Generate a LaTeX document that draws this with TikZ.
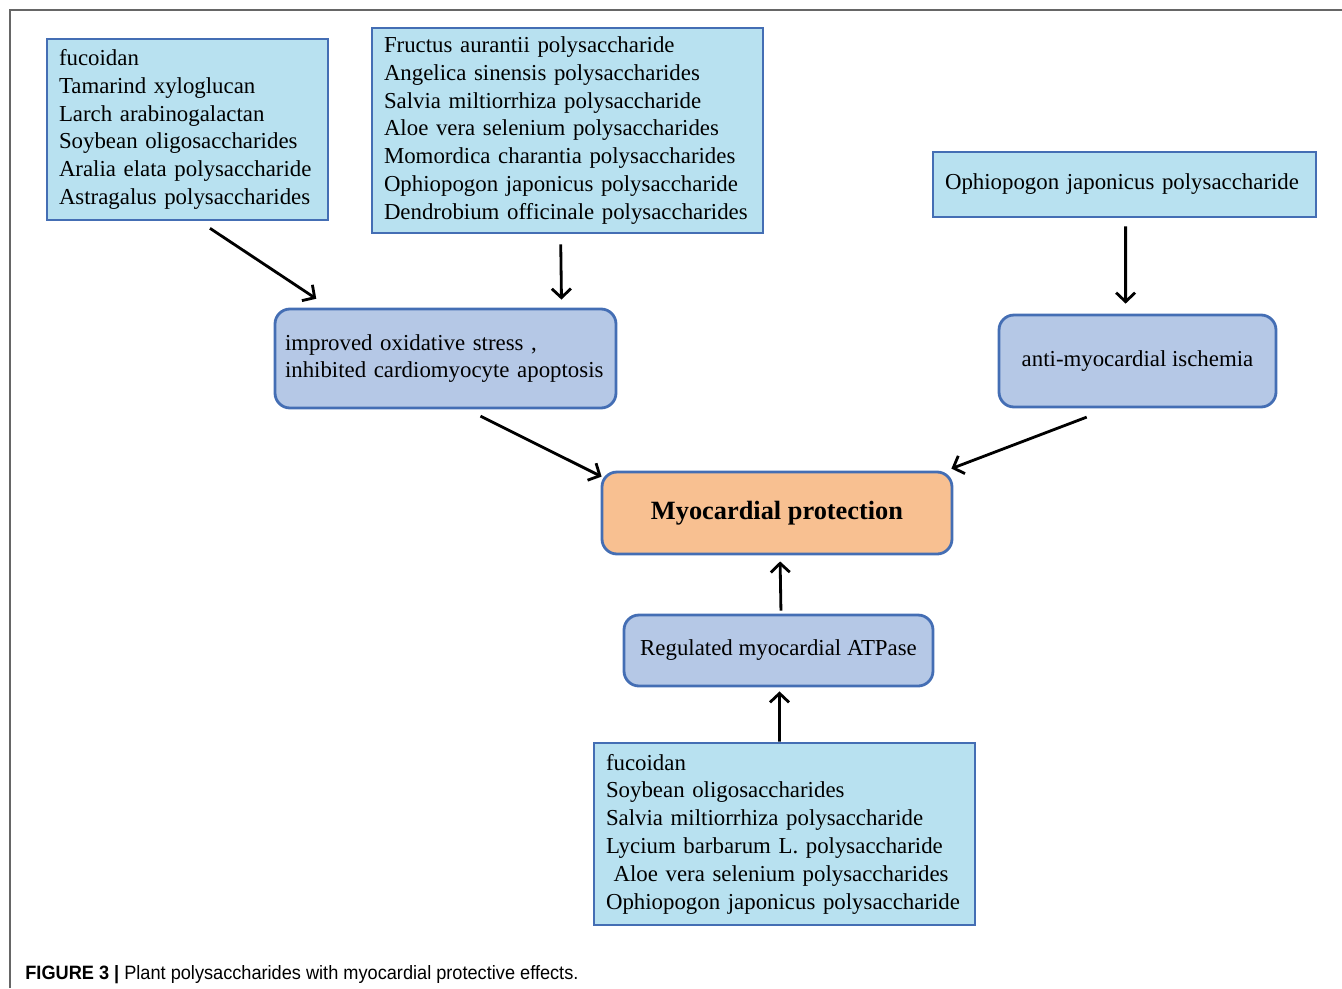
\documentclass[tikz,border=0pt]{standalone}
\usepackage{fontspec}
\setmainfont{Liberation Serif}
\setsansfont{Liberation Sans}
\newfontfamily\capfont{Liberation Sans}[FakeStretch=0.94]
\usetikzlibrary{arrows.meta}
\definecolor{listfill}{RGB}{184, 225, 240}
\definecolor{stepfill}{RGB}{181, 200, 230}
\definecolor{mainfill}{RGB}{248, 192, 145}
\definecolor{edgeblue}{RGB}{68, 110, 180}

\begin{document}
\begin{tikzpicture}[
        listbox/.style={draw=edgeblue, line width=1.6pt, fill=listfill, align=left,
            inner xsep=0.24cm, font=\fontsize{13}{15.8}\selectfont},
        effect/.style={draw=edgeblue, line width=1.6pt, fill=stepfill, rounded corners=0.3cm,
            align=center, font=\fontsize{13}{15.8}\selectfont},
        arr/.style={line width=1.6pt, -{Straight Barb[length=1.8mm, width=3.8mm]}}
    ]
    \useasboundingbox (0,0) rectangle (26.84,-19.76);
    % frame
    \draw[gray!80!black, line width=0.6pt] (0.2,-19.76) -- (0.2,-0.2) -- (26.84,-0.2);

    % sources
    \node[listbox, text width=5.14cm, minimum height=3.62cm] (srcA) at (3.75,-2.59) {fucoidan\\
        Tamarind xyloglucan\\
        Larch arabinogalactan\\
        Soybean oligosaccharides\\
        Aralia elata polysaccharide\\
        Astragalus polysaccharides};
    \node[listbox, text width=7.34cm, minimum height=4.1cm] (srcB) at (11.35,-2.61) {Fructus aurantii polysaccharide\\
        Angelica sinensis polysaccharides\\
        Salvia miltiorrhiza polysaccharide\\
        Aloe vera selenium polysaccharides\\
        Momordica charantia polysaccharides\\
        Ophiopogon japonicus polysaccharide\\
        Dendrobium officinale polysaccharides};
    \node[listbox, text width=7.18cm, minimum height=1.3cm] (srcC) at (22.49,-3.69) {Ophiopogon japonicus polysaccharide};
    \node[listbox, text width=7.14cm, minimum height=3.64cm] (srcH) at (15.69,-16.68) {fucoidan\\
        Soybean oligosaccharides\\
        Salvia miltiorrhiza polysaccharide\\
        Lycium barbarum L. polysaccharide\\
        \ Aloe vera selenium polysaccharides\\
        Ophiopogon japonicus polysaccharide};

    % effects
    \node[effect, align=left, inner xsep=0.2cm, text width=6.42cm, minimum height=1.98cm] (oxid) at (8.91,-7.17) {improved oxidative stress ,\\
        inhibited cardiomyocyte apoptosis};
    \node[effect, minimum width=5.54cm, minimum height=1.84cm] (ischem) at (22.75,-7.22) {anti-myocardial ischemia};
    \node[effect, minimum width=6.18cm, minimum height=1.42cm] (atpase) at (15.57,-13.01) {Regulated myocardial ATPase};
    \node[effect, fill=mainfill, minimum width=7.0cm, minimum height=1.64cm,
        font=\fontsize{15}{18}\selectfont\bfseries] (protect) at (15.54,-10.26) {Myocardial protection};

    % arrows
    \draw[arr, shorten <=0.25cm, shorten >=0.32cm] ([xshift=3.08cm]srcA.south west) -- ([xshift=1.12cm]oxid.north west);
    \draw[arr, shorten <=0.2cm, shorten >=0.16cm] ([xshift=3.8cm]srcB.south west) -- ([xshift=5.76cm]oxid.north west);
    \draw[arr, shorten <=0.16cm, shorten >=0.2cm] ([xshift=3.88cm]srcC.south west) -- ([xshift=2.56cm]ischem.north west);
    \draw[arr, shorten <=0.3cm] ([xshift=3.87cm]oxid.south west) -- ([xshift=0.02cm, yshift=-0.12cm]protect.north west);
    \draw[arr, shorten <=0.49cm] ([xshift=2.24cm]ischem.south west) -- ([xshift=-0.04cm, yshift=0.04cm]protect.north east);
    \draw[arr, shorten <=0.06cm, shorten >=0.12cm] ([xshift=0.05cm]atpase.north) -- ([xshift=0.06cm]protect.south);
    \draw[arr, shorten >=0.08cm] ([xshift=-0.1cm]srcH.north) -- ([xshift=0.02cm]atpase.south);

    % caption
    \node[anchor=base west, inner sep=0pt, font=\capfont\fontsize{11}{13}\selectfont] (caption) at (0.5,-19.58)
        {\textbf{FIGURE 3 |} Plant polysaccharides with myocardial protective effects.};
\end{tikzpicture}
\end{document}
